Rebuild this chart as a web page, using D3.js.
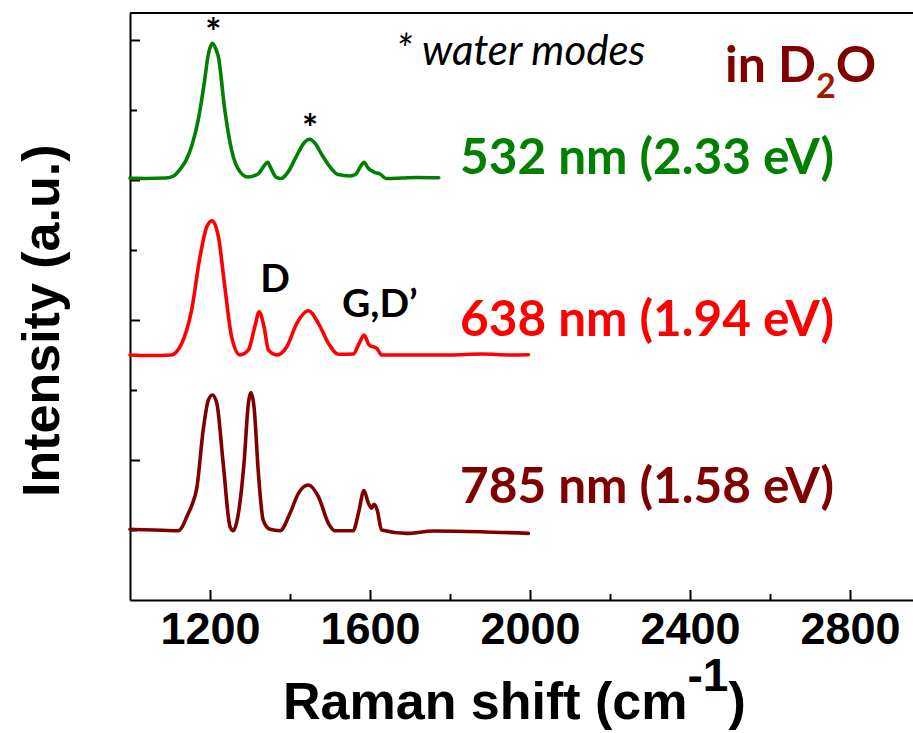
<!DOCTYPE html>
<html>
<head>
<meta charset="utf-8">
<script src="https://cdn.jsdelivr.net/npm/d3@7"></script>
<style>
  html, body { margin: 0; padding: 0; background: #fff; }
  svg { display: block; }
</style>
</head>
<body>
<svg id="chart" width="913" height="733"></svg>
<script>
// ---------------- data ----------------
const xTicksMajor = [1200, 1600, 2000, 2400, 2800];
const xTicksMinor = [1400, 1800, 2200, 2600];
const yTicksMajor = [1, 2, 3, 4];
const yTicksMinor = [0.5, 1.5, 2.5, 3.5];

const shift532 = [1000,1040,1090,1110,1125,1140,1155,1170,1185,1196,1206,1214,1221,1237,1254,1275,1295,1320,1335,1344,1352,1365,1378,1395,1415,1435,1448,1462,1480,1500,1520,1550,1565,1577,1585,1595,1610,1625,1640,1680,1720,1772];
const int532   = [3.012,3.011,3.014,3.03,3.075,3.14,3.25,3.42,3.68,3.9,3.976,3.94,3.879,3.5,3.214,3.059,3.021,3.043,3.1,3.126,3.086,3.021,3.011,3.057,3.164,3.264,3.291,3.264,3.179,3.093,3.039,3.029,3.043,3.1,3.126,3.086,3.057,3.043,3.011,3.014,3.018,3.016];

const shift638 = [1000,1050,1104,1117,1129,1142,1154,1175,1192,1205,1221,1237,1254,1275,1296,1312,1323,1335,1346,1367,1392,1417,1446,1471,1496,1521,1558,1573,1585,1598,1617,1629,1700,1800,1880,1950,1996];
const int638   = [1.75,1.746,1.75,1.775,1.83,1.93,2.071,2.452,2.666,2.709,2.595,2.238,1.881,1.75,1.786,1.952,2.059,1.952,1.786,1.75,1.809,1.976,2.066,1.976,1.834,1.755,1.757,1.834,1.893,1.821,1.798,1.75,1.75,1.75,1.757,1.75,1.752];

const shift785 = [1000,1060,1121,1132,1142,1155,1167,1183,1196,1206,1217,1233,1250,1258,1271,1285,1296,1302,1310,1321,1333,1350,1375,1400,1421,1446,1471,1496,1512,1558,1571,1585,1596,1604,1610,1618,1629,1692,1758,1875,1996];
const int785   = [0.505,0.5,0.495,0.53,0.595,0.68,0.8,1.214,1.429,1.464,1.405,0.976,0.524,0.495,0.619,0.976,1.405,1.481,1.381,0.905,0.571,0.505,0.495,0.619,0.762,0.821,0.738,0.548,0.495,0.495,0.619,0.781,0.691,0.655,0.684,0.643,0.5,0.476,0.493,0.488,0.476];

const seriesNames  = ["532 nm (2.33 eV)", "638 nm (1.94 eV)", "785 nm (1.58 eV)"];
const seriesColors = ["#008000", "#ff0000", "#800000"];

// ---------------- layout ----------------
const svg = d3.select("#chart");
const X0 = 130, X1 = 930, Y0 = 600, Y1 = 13;
const x = d3.scaleLinear().domain([1000, 3000]).range([X0, X1]);
const y = d3.scaleLinear().domain([0, (Y0 - Y1) / 140]).range([Y0, Y1]);

const axisFont = "'Liberation Sans', Arial, sans-serif";
const labelFont = "Lato, 'Open Sans', sans-serif";

// frame (top + right)
svg.append("line").attr("x1", X0).attr("x2", X1).attr("y1", Y1).attr("y2", Y1)
  .attr("stroke", "#000").attr("stroke-width", 2);
svg.append("line").attr("x1", X1).attr("x2", X1).attr("y1", Y1).attr("y2", Y0)
  .attr("stroke", "#000").attr("stroke-width", 2);

// x axis
const gx = svg.append("g").attr("transform", `translate(0,${Y0})`)
  .call(d3.axisBottom(x).tickValues(xTicksMajor).tickSizeInner(-10).tickSizeOuter(0).tickPadding(12).tickFormat(d3.format("d")));
svg.append("g").attr("transform", `translate(0,${Y0})`)
  .call(d3.axisBottom(x).tickValues(xTicksMinor).tickSizeInner(-6).tickSizeOuter(0).tickFormat(""))
  .select(".domain").remove();
gx.select(".domain").attr("stroke-width", 2);
gx.selectAll(".tick text").attr("font-family", axisFont).attr("font-weight", "bold")
  .attr("font-size", 45).attr("fill", "#000");

// y axis
const gy = svg.append("g").attr("transform", `translate(${X0},0)`)
  .call(d3.axisLeft(y).tickValues(yTicksMajor).tickSizeInner(-10).tickSizeOuter(0).tickFormat(""));
svg.append("g").attr("transform", `translate(${X0},0)`)
  .call(d3.axisLeft(y).tickValues(yTicksMinor).tickSizeInner(-7).tickSizeOuter(0).tickFormat(""))
  .select(".domain").remove();
gy.select(".domain").attr("stroke-width", 2);
svg.selectAll(".tick line").attr("stroke-width", 2);

// spectra
const line = d3.line().x(d => x(d[0])).y(d => y(d[1])).curve(d3.curveMonotoneX);
const series = [
  d3.zip(shift532, int532),
  d3.zip(shift638, int638),
  d3.zip(shift785, int785)
];
series.forEach((s, i) => {
  svg.append("path").datum(s).attr("d", line)
    .attr("fill", "none").attr("stroke", seriesColors[i])
    .attr("stroke-width", 3.6).attr("stroke-linejoin", "round").attr("stroke-linecap", "round");
});

// series labels
const labelY = [174, 336, 503];
seriesNames.forEach((t, i) => {
  svg.append("text").attr("x", 834).attr("y", labelY[i]).attr("text-anchor", "end")
    .attr("font-family", labelFont).attr("font-weight", "bold").attr("font-size", 49.5)
    .attr("fill", seriesColors[i]).text(t);
});

// in D2O
const d2o = svg.append("text").attr("x", 725).attr("y", 82)
  .attr("font-family", labelFont).attr("font-weight", "bold").attr("font-size", 50).attr("fill", "#800000");
d2o.append("tspan").text("in D");
d2o.append("tspan").attr("font-size", 34).attr("dy", 16).attr("fill", "#9e1a00").text("2");
d2o.append("tspan").attr("dy", -16).text("O");

// water modes note
svg.append("text").attr("x", 396).attr("y", 65)
  .attr("font-family", labelFont).attr("font-style", "italic").attr("font-size", 42)
  .attr("fill", "#000").text("* water modes");

// asterisks over water peaks
[[1206, 46], [1448, 142]].forEach(p => {
  svg.append("text").attr("x", x(p[0]) + 1).attr("y", p[1]).attr("text-anchor", "middle")
    .attr("font-family", labelFont).attr("font-weight", "bold").attr("font-size", 38)
    .attr("fill", "#000").text("*");
});

// peak labels
svg.append("text").attr("x", 275).attr("y", 292).attr("text-anchor", "middle")
  .attr("font-family", labelFont).attr("font-weight", "bold").attr("font-size", 39)
  .attr("fill", "#000").text("D");
svg.append("text").attr("x", 342).attr("y", 317)
  .attr("font-family", labelFont).attr("font-weight", "bold").attr("font-size", 39)
  .attr("fill", "#000").text("G,D\u2019");

// axis titles
svg.append("text").attr("transform", "translate(59,497) rotate(-90)")
  .attr("font-family", axisFont).attr("font-weight", "bold").attr("font-size", 52)
  .attr("fill", "#000").text("Intensity (a.u.)");

const xt = svg.append("text").attr("x", 283).attr("y", 719)
  .attr("font-family", axisFont).attr("font-weight", "bold").attr("font-size", 52).attr("fill", "#000");
xt.append("tspan").text("Raman shift (cm");
xt.append("tspan").attr("dy", -28).attr("font-size", 46).text("-1");
xt.append("tspan").attr("dy", 28).text(")");
</script>
</body>
</html>
